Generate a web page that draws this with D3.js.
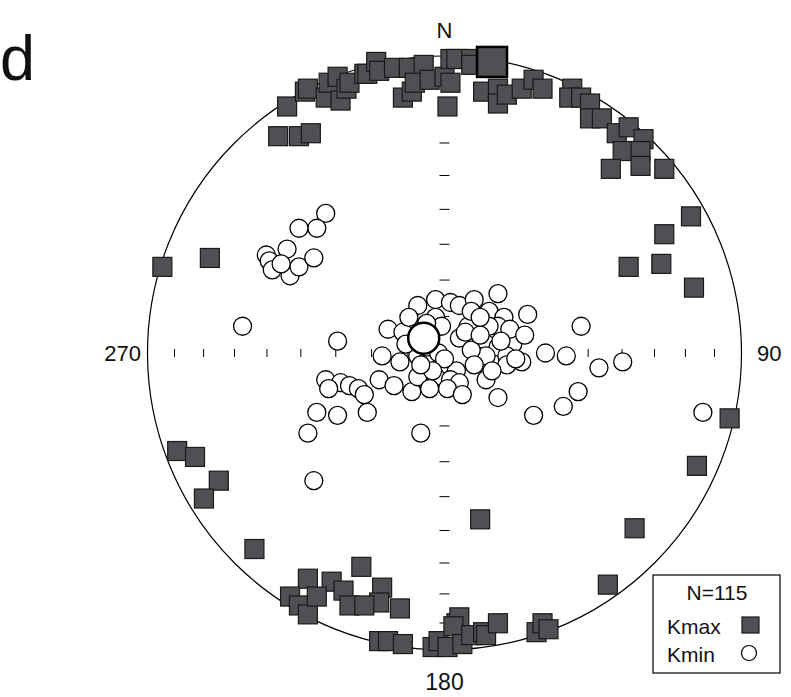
<!DOCTYPE html>
<html>
<head>
<meta charset="utf-8">
<script src="https://cdn.jsdelivr.net/npm/d3@7"></script>
<style>
  body { margin: 0; background: #fff; }
  svg text { font-family: "Liberation Sans", Arial, Helvetica, sans-serif; fill: #111; }
</style>
</head>
<body>
<div id="mainDiv"></div>
<script>
// projected positions on the equal-area net, [east, north] in % of net radius
var kmaxPoints = [
  [-53,83],[-47,88],[-46,89],[-40,86],[-39,91],[-36,93],[-35,85],[-33,89],[-32,91],
  [-27,94],[-26,94],[-23,98],[-22,95],[-17,96],[-12,96],[-7,97],[-14,86],[-11,88],
  [-10,91],[-5,92],[0,93],[2,91],[2,99],[4,99],[9,99],[9,97],[1,83],
  [13,88],[18,89],[18,84],[21,87],[26,89],[30,92],[33,89],[43,89],[42,86],[46,86],
  [49,84],[49,79],[53,79],[58,74],[62,76],[67,72],[60,68],[66,68],[56,62],[66,63],[74,62],
  [-56,73],[-49,73],[-45,74],
  [83,46],[74,40],[62,29],[73,30],[84,22],[96,-22],[85,-38],[64,-59],[55,-78],[12,-56],
  [-95,29],[-79,32],[-90,-33],[-84,-35],[-76,-43],[-81,-49],[-64,-66],
  [-28,-72],[-46,-76],[-38,-77],[-52,-82],[-49,-85],[-46,-88],[-43,-82],[-34,-80],[-32,-85],
  [-21,-79],[-22,-84],[-27,-85],[-15,-86],[-22,-97],[-19,-97],[-14,-98],[-4,-99],[-2,-97],
  [1,-99],[4,-91],[5,-89],[3,-92],[6,-98],[9,-95],[13,-94],[14,-95],[18,-91],
  [31,-94],[33,-91],[35,-93]
];
var kminPoints = [
  [-40,47],[-43,42],[-49,42],[-53,35],[-60,33],[-59,31],[-58,28],[-52,26],[-49,29],[-44,32],[-55,30],
  [-68,9],[-36,4],
  [-9,16],[-3,18],[2,17],[5,16],[10,18],[18,20],[15,14],[20,12],[18,9],[28,13],
  [-19,8],[-14,7],[-3,12],[-1,9],[8,9],[5,5],[7,7],[14,3],[18,2],[23,3],
  [-21,-1],[-15,-3],[-9,-1],[-6,-3],[-1,-4],[4,-6],[11,-1],[14,-1],[21,-1],[26,-3],
  [34,0],[41,-1],[46,9],[52,-5],[60,-3],
  [-22,-9],[-17,-11],[-11,-13],[-9,-8],[-3,-8],[2,-9],[5,-10],[14,-9],[21,-4],
  [-40,-9],[-35,-10],[-32,-11],[-29,-12],[-27,-14],[-39,-12],[-43,-20],[-36,-21],[-26,-20],
  [18,-15],[30,-21],[40,-18],[45,-13],[-46,-27],[-8,-27],[-44,-43],[87,-20],
  [-6,2],[-2,0],[0,-2],[-4,-6],[9,1],[10,-4],[15,9],[22,8],[9,14],[-13,3],[1,-12],[-5,-12],[19,4],[24,-2],
  [-12,12],[-6,10],[12,6],[16,-6],[-8,-4],[6,-14],[27,6],[12,12]
];
var kmaxMean = [16, 98];
var kminMean = [-7, 5];
var tickPlunges = [10, 20, 30, 40, 50, 60, 70, 80];
var dirLabels = ["N", "90", "180", "270"];
var nCount = 115;

var cx = 444.5, cy = 353, R = 297;

var svg = d3.select("#mainDiv").append("svg")
    .attr("width", 791).attr("height", 697).attr("id", "mainCanvas");

var xScale = d3.scaleLinear().domain([-100, 100]).range([cx - R, cx + R]);
var yScale = d3.scaleLinear().domain([-100, 100]).range([cy + R, cy - R]);
// equal-area (Schmidt) radius for a plunge, as fraction of net radius
var rScale = function(p){ return Math.SQRT2 * Math.sin((90 - p) / 2 * Math.PI / 180); };

svg.append("text").attr("x", 0).attr("y", 80).attr("font-size", 63).text("d");

// primitive circle
svg.append("circle").attr("cx", cx).attr("cy", cy).attr("r", R)
    .attr("fill", "none").attr("stroke", "#000").attr("stroke-width", 1.2);

// plunge ticks along the E-W and N-S diameters
tickPlunges.forEach(function(p){
    var d = rScale(p) * R;
    [-1, 1].forEach(function(s){
        svg.append("line").attr("x1", cx + s * d).attr("x2", cx + s * d)
            .attr("y1", cy - 4).attr("y2", cy + 4)
            .attr("stroke", "#000").attr("stroke-width", 1);
        svg.append("line").attr("x1", cx - 5).attr("x2", cx + 5)
            .attr("y1", cy + s * d).attr("y2", cy + s * d)
            .attr("stroke", "#000").attr("stroke-width", 1);
    });
});

// direction labels
svg.append("text").attr("x", cx).attr("y", 38).attr("text-anchor", "middle").attr("font-size", 22).text(dirLabels[0]);
svg.append("text").attr("x", 757).attr("y", 361).attr("font-size", 22).text(dirLabels[1]);
svg.append("text").attr("x", cx).attr("y", 690).attr("text-anchor", "middle").attr("font-size", 23).text(dirLabels[2]);
svg.append("text").attr("x", 141).attr("y", 361).attr("text-anchor", "end").attr("font-size", 22).text(dirLabels[3]);

var sq = 19;
svg.selectAll("rect.kmax").data(kmaxPoints).enter().append("rect")
    .attr("class", "kmax")
    .attr("x", function(d){ return xScale(d[0]) - sq / 2; })
    .attr("y", function(d){ return yScale(d[1]) - sq / 2; })
    .attr("width", sq).attr("height", sq)
    .attr("fill", "#4f4f54").attr("stroke", "#1a1a1a").attr("stroke-width", 1.2);

svg.selectAll("circle.kmin").data(kminPoints).enter().append("circle")
    .attr("class", "kmin")
    .attr("cx", function(d){ return xScale(d[0]); })
    .attr("cy", function(d){ return yScale(d[1]); })
    .attr("r", 9)
    .attr("fill", "#fff").attr("stroke", "#000").attr("stroke-width", 1.3);

// mean directions
var big = 30;
svg.append("rect").attr("x", xScale(kmaxMean[0]) - big / 2).attr("y", yScale(kmaxMean[1]) - big / 2)
    .attr("width", big).attr("height", big)
    .attr("fill", "#4f4f54").attr("stroke", "#000").attr("stroke-width", 2.5);
svg.append("circle").attr("cx", xScale(kminMean[0])).attr("cy", yScale(kminMean[1])).attr("r", 15.5)
    .attr("fill", "#fff").attr("stroke", "#000").attr("stroke-width", 2.5);

// legend
var legend = svg.append("g").attr("transform", "translate(653,575)");
legend.append("rect").attr("width", 127).attr("height", 98)
    .attr("fill", "#fff").attr("stroke", "#000").attr("stroke-width", 1.2);
legend.append("text").attr("x", 64).attr("y", 25).attr("text-anchor", "middle").attr("font-size", 21).text("N=" + nCount);
legend.append("text").attr("x", 14).attr("y", 59).attr("font-size", 21).text("Kmax");
legend.append("rect").attr("x", 89).attr("y", 42).attr("width", 17).attr("height", 16)
    .attr("fill", "#4f4f54").attr("stroke", "#1a1a1a").attr("stroke-width", 1.2);
legend.append("text").attr("x", 14).attr("y", 87).attr("font-size", 21).text("Kmin");
legend.append("circle").attr("cx", 96).attr("cy", 78).attr("r", 7.5)
    .attr("fill", "#fff").attr("stroke", "#000").attr("stroke-width", 1.2);
</script>
</body>
</html>
